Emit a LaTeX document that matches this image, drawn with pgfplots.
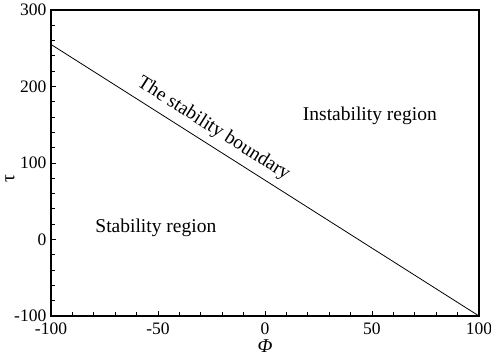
\documentclass[border=0pt]{standalone}
\usepackage{pgfplots}
\pgfplotsset{compat=1.18}
\usepackage{fontspec}
\setmainfont{Liberation Serif}
\usetikzlibrary{calc}
\begin{document}
\fontsize{19.5}{23}\selectfont
\begin{tikzpicture}
\begin{axis}[
  scale only axis,
  width=428pt, height=306pt,
  xmin=-100, xmax=100, ymin=-100, ymax=300,
  xtick={-100,-50,0,50,100},
  ytick={-100,0,100,200,300},
  minor tick num=4,
  tick pos=left,
  tick align=inside,
  major tick length=5pt,
  minor tick length=4pt,
  every tick/.style={black, line width=0.8pt},
  axis line style={line width=1.2pt},
  /pgf/number format/assume math mode=true,
  ticklabel style={font=\fontsize{17.5}{21}\selectfont},
  yticklabel style={xshift=2pt},
  xlabel={\textit{Φ}},
  ylabel={τ},
  label style={font=\fontsize{19.5}{23}\selectfont},
  xlabel style={yshift=8pt},
  ylabel style={at={(axis description cs:-0.096,0.45)}, anchor=center},
  clip=false,
]
\addplot[black, line width=0.8pt] coordinates {(-100,255) (100,-100)}
  node[pos=0.36, sloped, above, yshift=0pt, font=\fontsize{19.5}{23}\selectfont] {The stability boundary};
\node[font=\fontsize{19.5}{23}\selectfont] at (axis cs:49,161) {Instability region};
\node[font=\fontsize{19.5}{23}\selectfont] at (axis cs:-51,15) {Stability region};
\end{axis}
\pgfresetboundingbox
\path ($(current axis.south west)+(-51pt,-43pt)$) rectangle ($(current axis.north east)+(12pt,10pt)$);
\end{tikzpicture}
\end{document}
